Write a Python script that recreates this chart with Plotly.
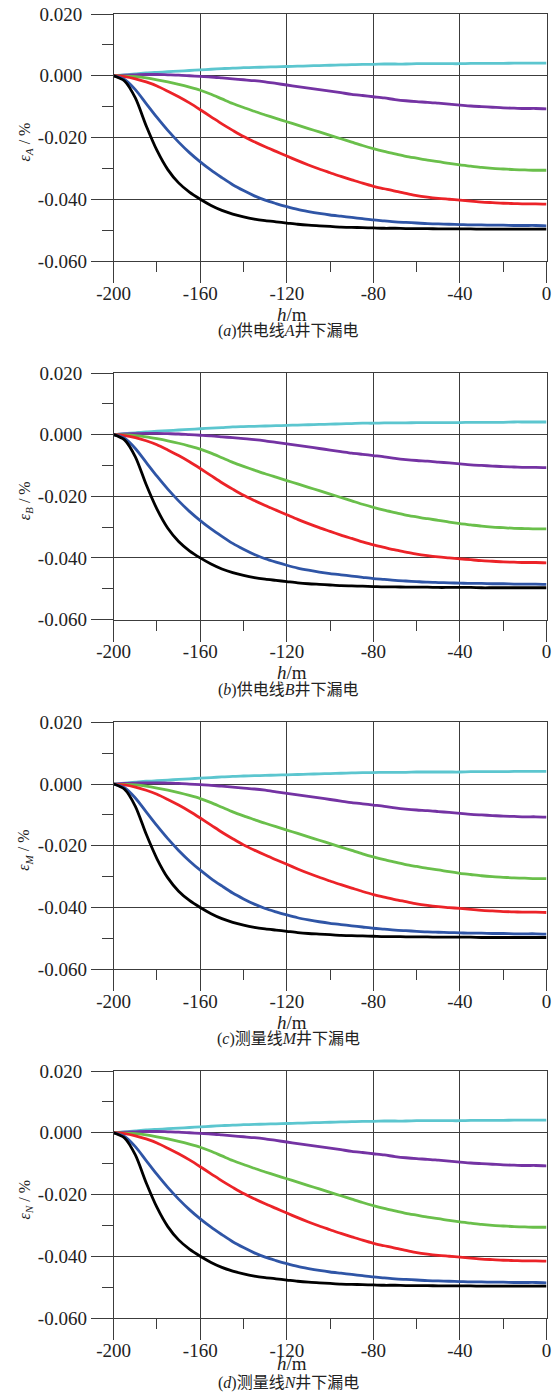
import plotly.graph_objects as go

# ---------------- data ----------------
h = [-200, -195, -190, -185, -180, -175, -170, -165, -160, -155,
     -150, -145, -140, -135, -130, -125, -120, -115, -110, -105,
     -100, -95, -90, -85, -80, -75, -70, -65, -60, -55,
     -50, -45, -40, -35, -30, -25, -20, -15, -10, -5, 0]

eps_cyan = [0, 0.0003, 0.0006, 0.0009, 0.0011, 0.0013, 0.0015, 0.0017, 0.0019, 0.0021,
            0.0023, 0.0025, 0.0026, 0.0027, 0.0028, 0.0029, 0.0030, 0.0031, 0.0032, 0.0033,
            0.0034, 0.0035, 0.0036, 0.0037, 0.0037, 0.0038, 0.0038, 0.0038, 0.0039, 0.0039,
            0.0039, 0.0039, 0.0039, 0.0040, 0.0040, 0.0040, 0.0040, 0.0041, 0.0041, 0.0041, 0.0041]

eps_purple = [0, 0.0002, 0.0003, 0.0004, 0.0004, 0.0003, 0.0002, 0.0000, -0.0002, -0.0004,
              -0.0007, -0.0010, -0.0013, -0.0016, -0.0020, -0.0025, -0.0030, -0.0035, -0.0040, -0.0045,
              -0.0050, -0.0055, -0.0060, -0.0064, -0.0068, -0.0072, -0.0077, -0.0081, -0.0084, -0.0086,
              -0.0089, -0.0092, -0.0095, -0.0098, -0.0100, -0.0102, -0.0104, -0.0105, -0.0106, -0.0106, -0.0107]

eps_green = [0, -0.0001, -0.0003, -0.0007, -0.0013, -0.0020, -0.0028, -0.0037, -0.0047, -0.0060,
             -0.0075, -0.0090, -0.0103, -0.0115, -0.0127, -0.0138, -0.0149, -0.0160, -0.0171, -0.0182,
             -0.0193, -0.0204, -0.0215, -0.0226, -0.0236, -0.0245, -0.0253, -0.0261, -0.0267, -0.0273,
             -0.0278, -0.0284, -0.0289, -0.0293, -0.0297, -0.0300, -0.0302, -0.0304, -0.0305, -0.0306, -0.0306]

eps_red = [0, -0.0003, -0.0010, -0.0020, -0.0033, -0.0050, -0.0068, -0.0088, -0.0110, -0.0133,
           -0.0156, -0.0177, -0.0197, -0.0214, -0.0230, -0.0245, -0.0260, -0.0275, -0.0289, -0.0302,
           -0.0314, -0.0326, -0.0337, -0.0348, -0.0358, -0.0366, -0.0374, -0.0381, -0.0388, -0.0393,
           -0.0397, -0.0400, -0.0403, -0.0406, -0.0409, -0.0411, -0.0413, -0.0414, -0.0415, -0.0415, -0.0416]

eps_blue = [0, -0.0012, -0.0045, -0.0090, -0.0135, -0.0177, -0.0215, -0.0249, -0.0279, -0.0306,
            -0.0330, -0.0353, -0.0372, -0.0389, -0.0403, -0.0414, -0.0424, -0.0433, -0.0440, -0.0446,
            -0.0451, -0.0455, -0.0459, -0.0463, -0.0467, -0.0470, -0.0473, -0.0475, -0.0477, -0.0479,
            -0.0480, -0.0481, -0.0482, -0.0483, -0.0483, -0.0484, -0.0484, -0.0485, -0.0485, -0.0485, -0.0486]

eps_black = [0, -0.0017, -0.0072, -0.0162, -0.0242, -0.0304, -0.0347, -0.0377, -0.0400, -0.0420,
             -0.0436, -0.0448, -0.0457, -0.0464, -0.0469, -0.0473, -0.0477, -0.0481, -0.0484, -0.0486,
             -0.0488, -0.0490, -0.0491, -0.0492, -0.0493, -0.0494, -0.0494, -0.0495, -0.0495, -0.0495,
             -0.0496, -0.0496, -0.0496, -0.0496, -0.0497, -0.0497, -0.0497, -0.0497, -0.0497, -0.0497, -0.0497]

x_ticks = [-200, -160, -120, -80, -40, 0]
x_ticktext = ["-200", "-160", "-120", "-80", "-40", "0"]
y_ticks = [-0.06, -0.04, -0.02, 0.0, 0.02]
y_ticktext = ["-0.060", "-0.040", "-0.020", "0.000\u00a0", "0.020\u00a0"]

panel_sub = ["A", "B", "M", "N"]
panel_caption = ["(<i>a</i>)供电线<i>A</i>井下漏电",
                 "(<i>b</i>)供电线<i>B</i>井下漏电",
                 "(<i>c</i>)测量线<i>M</i>井下漏电",
                 "(<i>d</i>)测量线<i>N</i>井下漏电"]

series = [eps_cyan, eps_purple, eps_green, eps_red, eps_blue, eps_black]
colors = ["#5CC6CF", "#7433A3", "#6ABF4B", "#EC2328", "#2F55A6", "#000000"]

# ---------------- layout geometry ----------------
W, H = 554, 1396
PX0, PX1 = 113.7, 546.5
panels = [(14, 261), (373, 619.5), (722.3, 969.3), (1071, 1318)]
xtitle_off = [53, 53, 53, 45]
caption_off = [70, 70, 70, 65]

SERIF = '"Liberation Serif", "Times New Roman", "Noto Sans CJK SC", serif'
GRID = "#3c3c3c"
TXT = "#222222"

fig = go.Figure()
layout = dict(
    width=W, height=H,
    margin=dict(l=0, r=0, t=0, b=0, autoexpand=False),
    paper_bgcolor="white", plot_bgcolor="white",
    showlegend=False,
    font=dict(family=SERIF, size=19, color=TXT),
    annotations=[],
)

for i, (top, bot) in enumerate(panels):
    k = "" if i == 0 else str(i + 1)
    xa, ya = "x" + k, "y" + k
    for s, c in zip(series, colors):
        fig.add_trace(go.Scatter(x=h, y=s, mode="lines", xaxis=xa, yaxis=ya,
                                 line=dict(color=c, width=2.8, shape="spline", smoothing=0.8),
                                 hoverinfo="skip"))
    layout["xaxis" + k] = dict(
        domain=[PX0 / W, PX1 / W], anchor=ya, range=[-200, 0],
        tickmode="array", tickvals=x_ticks, ticktext=x_ticktext,
        showgrid=True, gridcolor=GRID, gridwidth=1,
        showline=True, linecolor=GRID, linewidth=1, mirror=True,
        ticks="outside", ticklen=21, tickcolor=GRID, tickwidth=1,
        ticklabelstandoff=-6,
        minor=dict(tickmode="array", tickvals=[-180, -140, -100, -60, -20],
                   ticks="outside", ticklen=10, tickcolor=GRID, tickwidth=1, showgrid=False),
        zeroline=False, automargin=False,
        tickfont=dict(family=SERIF, size=19, color=TXT),
        fixedrange=True,
    )
    layout["yaxis" + k] = dict(
        domain=[1 - bot / H, 1 - top / H], anchor=xa, range=[-0.06, 0.02],
        tickmode="array", tickvals=y_ticks, ticktext=y_ticktext,
        showgrid=True, gridcolor=GRID, gridwidth=1,
        showline=True, linecolor=GRID, linewidth=1, mirror=True,
        ticks="outside", ticklen=22, tickcolor=GRID, tickwidth=1,
        minor=dict(tickmode="array", tickvals=[-0.05, -0.03, -0.01, 0.01],
                   ticks="outside", ticklen=11, tickcolor=GRID, tickwidth=1, showgrid=False),
        zeroline=False, automargin=False,
        tickfont=dict(family=SERIF, size=19, color=TXT),
        fixedrange=True,
    )
    # y-axis title
    layout["annotations"].append(dict(
        text="<i>ε</i><sub><i>%s</i></sub> / %%" % panel_sub[i],
        xref="paper", yref="paper", x=25 / W, y=1 - ((top + bot) / 2 + 5) / H,
        textangle=-90, showarrow=False, xanchor="center", yanchor="middle",
        font=dict(family=SERIF, size=16, color=TXT)))
    # x-axis title
    layout["annotations"].append(dict(
        text="<i>h</i>/m", xref="paper", yref="paper", x=292 / W,
        y=1 - (bot + xtitle_off[i]) / H,
        showarrow=False, xanchor="center", yanchor="middle", borderpad=0,
        font=dict(family=SERIF, size=19, color=TXT)))
    # caption
    layout["annotations"].append(dict(
        text=panel_caption[i], xref="paper", yref="paper", x=288 / W,
        y=1 - (bot + caption_off[i]) / H,
        showarrow=False, xanchor="center", yanchor="middle", borderpad=0,
        font=dict(family=SERIF, size=16, color=TXT)))

fig.update_layout(**layout)
fig.write_html("out.html")
